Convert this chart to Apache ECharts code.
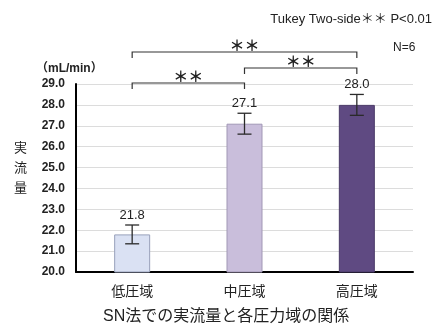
<!DOCTYPE html>
<html><head><meta charset="utf-8">
<style>html,body{margin:0;padding:0;background:#fff}#chart{width:442px;height:329px}</style>
<script src="https://cdn.jsdelivr.net/npm/echarts@6/dist/echarts.min.js"></script>
</head><body><div id="chart"></div>
<script>
// Measured flow rate per pressure range (mean ± SD, N=6)
const categories = ['低圧域', '中圧域', '高圧域'];
const flowValues = [21.8, 27.1, 28.0];
const flowErrors = [0.45, 0.5, 0.5];
const yMin = 20, yMax = 29, yStep = 1;
// Tukey pairwise comparisons: [from, to, mark]
const sigPairs = [[0, 1, '＊＊'], [1, 2, '＊＊'], [0, 2, '＊＊']];

const barColors = ['#dae1f3', '#c9bedb', '#5f4a82'];
const barBorders = ['#98a0bb', '#a197b5', '#4a3a68'];
const JP = '"Liberation Sans", Arial, "Noto Sans CJK JP", sans-serif';
const ink = '#222';

const chart = echarts.init(document.getElementById('chart'), null, { renderer: 'canvas' });

// bracket rows, measured in pixels above the plot top
const bracketLift = [1, 16, 32];

chart.setOption({
  animation: false,
  grid: { left: 76, right: 29, top: 84, bottom: 57 },
  xAxis: {
    type: 'category',
    data: categories,
    axisLine: { lineStyle: { color: '#000', width: 2 } },
    axisTick: { show: false },
    axisLabel: { fontSize: 14, color: ink, fontFamily: JP, margin: 13 }
  },
  yAxis: {
    type: 'value',
    min: yMin, max: yMax, interval: yStep,
    axisLine: { show: true, lineStyle: { color: '#000', width: 2 } },
    axisTick: { show: false },
    splitLine: { lineStyle: { color: '#dcdcdc', width: 1 } },
    axisLabel: {
      fontSize: 12, fontWeight: 'bold', color: ink, fontFamily: JP, margin: 11,
      formatter: v => v.toFixed(1)
    }
  },
  series: [
    {
      type: 'bar',
      barWidth: 36,
      data: flowValues.map((v, i) => ({
        value: v,
        itemStyle: { color: barColors[i], borderColor: barBorders[i], borderWidth: 1 }
      }))
    },
    {
      // error bars with value labels
      type: 'custom',
      clip: false,
      z: 5,
      data: flowValues.map((v, i) => [i, v, flowErrors[i]]),
      renderItem: (params, api) => {
        const i = api.value(0), v = api.value(1), e = api.value(2);
        const top = api.coord([i, v + e]);
        const bot = api.coord([i, v - e]);
        const x = top[0], hw = 7;
        const st = { stroke: '#2a2a2a', lineWidth: 1.3 };
        return {
          type: 'group',
          children: [
            { type: 'line', shape: { x1: x, y1: top[1], x2: x, y2: bot[1] }, style: st },
            { type: 'line', shape: { x1: x - hw, y1: top[1], x2: x + hw, y2: top[1] }, style: st },
            { type: 'line', shape: { x1: x - hw, y1: bot[1], x2: x + hw, y2: bot[1] }, style: st },
            {
              type: 'text',
              style: {
                x: x, y: top[1] - 10, text: v.toFixed(1),
                textAlign: 'center', textVerticalAlign: 'middle',
                font: '13px ' + JP, fill: ink
              }
            }
          ]
        };
      }
    },
    {
      // significance brackets
      type: 'custom',
      clip: false,
      z: 5,
      data: sigPairs.map((p, k) => [p[0], p[1], k]),
      renderItem: (params, api) => {
        const a = api.value(0), b = api.value(1), k = api.value(2);
        const top = api.coord([a, yMax])[1];
        const y = top - bracketLift[k];
        const x1 = api.coord([a, yMax])[0];
        const x2 = api.coord([b, yMax])[0];
        const st = { stroke: '#333', lineWidth: 1.2, fill: null };
        return {
          type: 'group',
          children: [
            {
              type: 'polyline',
              shape: { points: [[x1, y + 6], [x1, y], [x2, y], [x2, y + 6]] },
              style: st
            },
            {
              type: 'text',
              style: {
                x: (x1 + x2) / 2, y: y - 7, text: sigPairs[k][2],
                textAlign: 'center', textVerticalAlign: 'middle',
                font: 'bold 15px "Noto Sans CJK JP", sans-serif', fill: ink
              }
            }
          ]
        };
      }
    }
  ],
  graphic: [
    {
      type: 'text', left: 21 - 7, top: 137,
      style: { text: '実\n流\n量', font: '13px "Noto Sans CJK JP", sans-serif', fill: '#222', lineHeight: 20, textAlign: 'center' }
    },
    {
      type: 'text', left: 36, top: 63,
      style: { text: '（mL/min）', font: 'bold 12px ' + JP, fill: ink }
    },
    {
      type: 'text', right: 10, top: 13,
      style: { text: 'Tukey Two-side＊＊ P<0.01', font: '13px ' + JP, fill: ink }
    },
    {
      type: 'text', left: 393, top: 42,
      style: { text: 'N=6', font: '12px ' + JP, fill: ink }
    },
    {
      type: 'text', left: 103, top: 309,
      style: { text: 'SN法での実流量と各圧力域の関係', font: '16px ' + JP, fill: ink }
    }
  ]
});
</script>
</body></html>
